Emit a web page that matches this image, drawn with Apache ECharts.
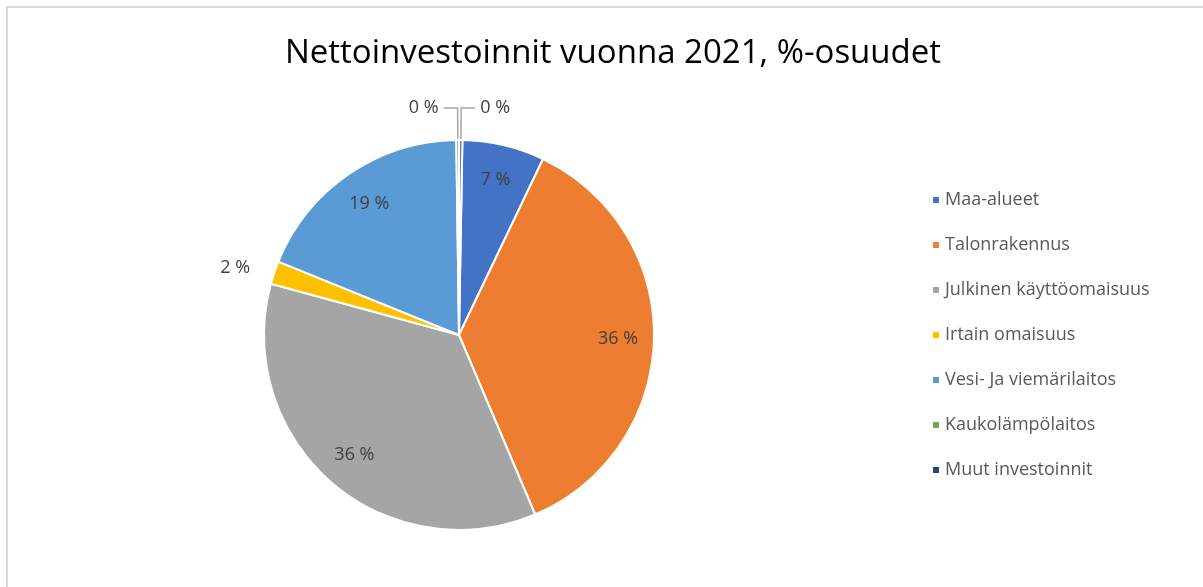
<!DOCTYPE html>
<html>
<head>
<meta charset="utf-8">
<script src="https://cdn.jsdelivr.net/npm/echarts@6/dist/echarts.min.js"></script>
<style>
html,body{margin:0;padding:0;background:#fff;overflow:hidden;}
#frame{position:absolute;left:6px;top:6px;width:1220px;height:600px;border:2px solid #d9d9d9;box-sizing:border-box;}
#main{position:absolute;left:0;top:0;width:1203px;height:587px;}
</style>
</head>
<body>
<div id="frame"></div>
<div id="main"></div>
<script type="text/javascript">
// luokat ja osuudet (%)
var categories = ['Maa-alueet', 'Talonrakennus', 'Julkinen käyttöomaisuus', 'Irtain omaisuus', 'Vesi- Ja viemärilaitos', 'Kaukolämpölaitos', 'Muut investoinnit'];
var shares = [6.8, 36.45, 35.55, 1.9, 18.6, 0.25, 0.25];
var colors = ['#4472C4', '#ED7D31', '#A5A5A5', '#FFC000', '#5B9BD5', '#70AD47', '#264478'];

var font = 'Open Sans';
var pieCenter = [459, 335];
var R = 195;

function pct(p) { return Math.round(p.value) + ' %'; }

// viipaleet: pienille arvoille label ulkopuolelle
var sliceData = categories.map(function (name, i) {
    var d = { name: name, value: shares[i], itemStyle: { color: colors[i] } };
    if (shares[i] < 1) {
        d.label = { show: true };
        d.labelLine = { show: true };
    } else if (shares[i] < 3) {
        d.label = { show: true };
        d.labelLine = { show: false, length: 16, length2: 4 };
    }
    return d;
});
// läpinäkyvä kehä isoille labeleille (n. 0.8 * säde)
var labelData = categories.map(function (name, i) {
    return { name: name, value: shares[i], label: { show: shares[i] >= 3 } };
});

var myChart = echarts.init(document.getElementById('main'));
var option = {
    animation: false,
    title: {
        text: 'Nettoinvestoinnit vuonna 2021, %-osuudet',
        left: 608, top: 32, textAlign: 'center',
        textStyle: { fontFamily: font, fontSize: 33, fontWeight: 'normal', color: '#000' }
    },
    legend: {
        orient: 'vertical',
        left: 926, top: 184,
        itemWidth: 8, itemHeight: 8,
        itemGap: 23,
        icon: 'rect',
        data: categories,
        textStyle: { fontFamily: font, fontSize: 18, color: '#595959', lineHeight: 22 }
    },
    series: [
        {
            name: 'osuudet',
            type: 'pie',
            center: pieCenter,
            radius: [0, R],
            startAngle: 89,
            clockwise: true,
            avoidLabelOverlap: false,
            itemStyle: { borderColor: '#fff', borderWidth: 2 },
            label: {
                show: false, position: 'outside', formatter: pct,
                fontFamily: font, fontSize: 18, color: '#404040'
            },
            labelLine: { show: true, length: 32, length2: 14, lineStyle: { color: '#a6a6a6', width: 1.5 } },
            emphasis: { disabled: true },
            data: sliceData
        },
        {
            name: 'labels',
            type: 'pie',
            center: pieCenter,
            radius: [R * 0.6, R],
            startAngle: 89,
            clockwise: true,
            silent: true,
            itemStyle: { color: 'rgba(0,0,0,0)' },
            label: {
                position: 'inside', formatter: pct,
                fontFamily: font, fontSize: 18, color: '#404040'
            },
            labelLine: { show: false },
            data: labelData
        }
    ]
};
myChart.setOption(option);
</script>
</body>
</html>
